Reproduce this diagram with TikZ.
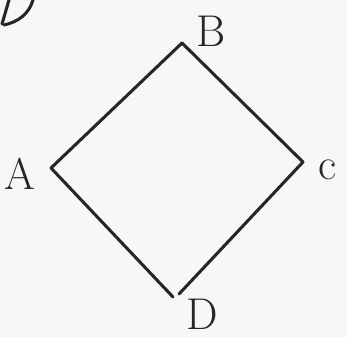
\documentclass[tikz,border=0pt]{standalone}
\usepackage{tikz}
\usetikzlibrary{positioning}

\begin{document}
\begin{tikzpicture}[x=0.03cm,y=-0.03cm,
    side/.style={line width=2.6pt, draw=black!85, line cap=round, line join=round},
    vlabel/.style={font=\fontsize{38}{40}\selectfont, text=black!85, inner sep=0pt}]
    \fill[gray!6] (0,0) rectangle (347,337);
    \useasboundingbox (0,0) rectangle (347,337);

    % corners of the square
    \coordinate (pA) at (51,168);
    \coordinate (pB) at (182,43);
    \coordinate (pC) at (303,162);
    \coordinate (pD) at (173,297);
    \coordinate (pDr) at (179,294);

    % sides
    \draw[side] (pA) -- (pB);
    \draw[side] (pB) -- (pC);
    \draw[side] (pC) -- (pDr);
    \draw[side] (pA) -- (pD);

    % vertex labels
    \node[vlabel] (lA) at (20,174) {A};
    \node[vlabel] (lB) at (211,31) {B};
    \node[vlabel] (lC) at (328,170) {c};
    \node[vlabel] (lD) at (202,314) {D};

    % cut-off mark in the corner
    \draw[side] (9,0) -- (2,24);
    \draw[side] (33,0) .. controls (29,14) and (18,22) .. (4,25);
\end{tikzpicture}
\end{document}
